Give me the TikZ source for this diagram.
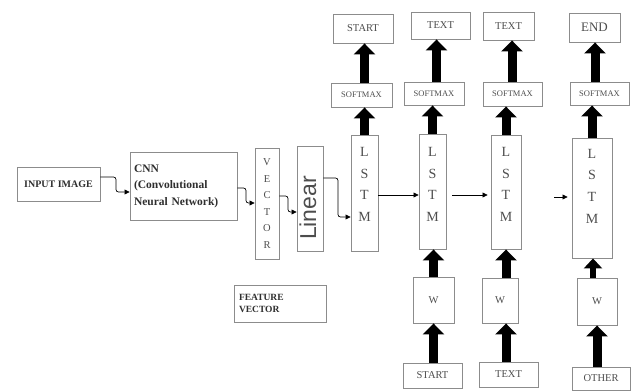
\documentclass[tikz,border=0pt]{standalone}
\usepackage{fontspec}
\setmainfont{Liberation Serif}
\newfontfamily\arialf{Liberation Sans}
\usetikzlibrary{arrows.meta}
\definecolor{boxgray}{HTML}{8C8C8C}
\definecolor{txtgray}{HTML}{4D4D4D}
\definecolor{txtdark}{HTML}{2E2E2E}
\begin{document}
\begin{tikzpicture}[x=1pt,y=-1pt,
  box/.style={draw=boxgray, line width=0.9pt, inner sep=0pt, text=txtgray},
  boldtxt/.style={text=txtdark, font=\bfseries\fontsize{10}{15}\selectfont},
  lstmtxt/.style={align=center, text=txtgray, inner sep=0pt, font=\fontsize{14}{21.7}\selectfont},
  smtxt/.style={font=\fontsize{8.5}{9}\selectfont},
  lbl/.style={font=\fontsize{10.5}{12}\selectfont},
  fat/.style={-{Triangle[length=11pt,width=21pt]}, line width=9pt, black},
  fatthin/.style={-{Triangle[length=10pt,width=18pt]}, line width=6pt, black},
  conn/.style={-{Triangle[length=5pt,width=5pt]}, line width=0.7pt, black, rounded corners=2.5pt}]
\useasboundingbox (0,0) rectangle (632,391);

% left part
\node[box, boldtxt, minimum width=83pt, minimum height=34pt] (inp) at (58.5,184) {INPUT IMAGE};
\node[box, boldtxt, font=\bfseries\fontsize{11.5}{16.5}\selectfont, minimum width=107pt, minimum height=68pt, align=left, text width=99pt, inner sep=4pt] (cnn) at (183.5,186) {CNN\\(Convolutional\\Neural Network)};
\node[box, minimum width=24pt, minimum height=111pt, align=center, font=\fontsize{10.5}{16.5}\selectfont] (vec) at (267,203.5) {V\\E\\C\\T\\O\\R};
\node[box, minimum width=26pt, minimum height=105pt] (lin) at (310,198.5) {};
\node[rotate=90, inner sep=0pt, text=txtgray, font=\arialf\fontsize{23}{23}\selectfont] (lint) at (308,208) {Linear};
\node[box, text=txtdark, font=\bfseries\fontsize{9.5}{12}\selectfont, align=left, minimum width=92pt, minimum height=37pt, text width=82pt] (fv) at (280,303.5) {FEATURE\\VECTOR};

% LSTM boxes
\node[box, minimum width=27pt, minimum height=116pt] (l1) at (364.5,193) {};
\node[box, minimum width=27pt, minimum height=115pt] (l2) at (432.5,191.5) {};
\node[box, minimum width=30pt, minimum height=114pt] (l3) at (506,192) {};
\node[box, minimum width=40pt, minimum height=120pt] (l4) at (592,198) {};
\node[lstmtxt] (l1t) at (364.5,184.5) {L\\S\\T\\M};
\node[lstmtxt] (l2t) at (432.5,184.5) {L\\S\\T\\M};
\node[lstmtxt] (l3t) at (506,184.5) {L\\S\\T\\M};
\node[lstmtxt] (l4t) at (592,186) {L\\S\\T\\M};

% softmax boxes
\node[box, smtxt, minimum width=61pt, minimum height=24pt] (s1) at (361.5,95) {SOFTMAX};
\node[box, smtxt, minimum width=60pt, minimum height=23pt] (s2) at (434,93.5) {SOFTMAX};
\node[box, smtxt, minimum width=59pt, minimum height=24pt] (s3) at (512.5,94) {SOFTMAX};
\node[box, smtxt, minimum width=59pt, minimum height=23pt] (s4) at (599.5,93.5) {SOFTMAX};

% top outputs
\node[box, lbl, minimum width=60pt, minimum height=29pt] (t1) at (363,28.5) {START};
\node[box, lbl, minimum width=59pt, minimum height=27pt] (t2) at (440.5,25.5) {TEXT};
\node[box, lbl, minimum width=51pt, minimum height=28pt] (t3) at (508.5,26) {TEXT};
\node[box, font=\fontsize{13}{14}\selectfont, minimum width=51pt, minimum height=29pt] (t4) at (594.5,27.5) {END};

% W boxes
\node[box, lbl, minimum width=41pt, minimum height=46pt] (w1) at (433.5,300) {W};
\node[box, lbl, minimum width=36pt, minimum height=45pt] (w2) at (500,300.5) {W};
\node[box, lbl, minimum width=40pt, minimum height=47pt] (w3) at (597,301.5) {W};

% bottom inputs
\node[box, lbl, minimum width=59pt, minimum height=25pt] (b1) at (432.5,375.5) {START};
\node[box, lbl, minimum width=59pt, minimum height=25pt] (b2) at (508.5,374.5) {TEXT};
\node[box, lbl, minimum width=58pt, minimum height=23pt] (b3) at (601,378.5) {OTHER};

% thick arrows up
\draw[fat] (l1.north) -- (l1.north |- s1.south);
\draw[fat] (s1.north -| l1.north) -- (l1.north |- t1.south);
\draw[fat] (l2.north) -- (l2.north |- s2.south);
\draw[fat] ([xshift=4pt]s2.north -| l2.north) -- ([xshift=4pt]l2.north |- t2.south);
\draw[fat] (l3.north) -- (l3.north |- s3.south);
\draw[fat] ([xshift=6pt]s3.north -| l3.north) -- ([xshift=6pt]l3.north |- t3.south);
\draw[fat] (l4.north) -- (l4.north |- s4.south);
\draw[fat] ([xshift=3pt]s4.north -| l4.north) -- ([xshift=3pt]l4.north |- t4.south);

\draw[fat] (b1.north -| w1.north) -- (w1.south);
\draw[fat] (w1.north) -- (w1.north |- l2.south);
\draw[fat] ([xshift=6pt]b2.north -| w2.north) -- ([xshift=6pt]w2.south);
\draw[fat] ([xshift=6pt]w2.north) -- ([xshift=6pt]w2.north |- l3.south);
\draw[fat] (b3.north -| w3.north) -- (w3.south);
\draw[fatthin] ([xshift=-4pt]w3.north) -- ([xshift=-4pt]w3.north |- l4.south);

% thin connectors
\draw[conn] (inp.east |- 0,177) -- (116,177) -- (116,192) -- (cnn.west |- 0,192);
\draw[conn] (cnn.east |- 0,188) -- (246,188) -- (246,203) -- (vec.west |- 0,203);
\draw[conn] (vec.east |- 0,196) -- (288,196) -- (288,212) -- (lin.west |- 0,212);
\draw[conn] (lin.east |- 0,178) -- (338,178) -- (338,217) -- (l1.west |- 0,217);
\draw[conn] (l1.east |- 0,195) -- (l2.west |- 0,195);
\draw[conn, shorten <=6pt, shorten >=3pt] (l2.east |- 0,195) -- (l3.west |- 0,195);
\coordinate (c4) at (554,197);
\draw[conn, shorten >=4pt] (c4) -- (l4.west |- c4);
\end{tikzpicture}
\end{document}
